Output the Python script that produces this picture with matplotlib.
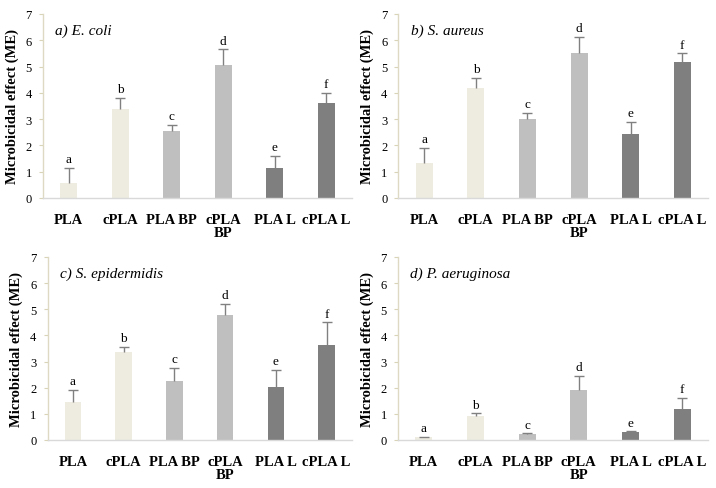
import matplotlib
matplotlib.use("Agg")
import matplotlib.pyplot as plt
import numpy as np

categories = ["PLA", "cPLA", "PLA BP", "cPLA\nBP", "PLA L", "cPLA L"]
letters = ["a", "b", "c", "d", "e", "f"]
bar_colors = ["#eeece1", "#eeece1", "#bfbfbf", "#bfbfbf", "#7f7f7f", "#7f7f7f"]

titles = ["a) E. coli", "b) S. aureus", "c) S. epidermidis", "d) P. aeruginosa"]

ecoli_mean = [0.57, 3.38, 2.55, 5.05, 1.15, 3.62]
ecoli_err = [0.57, 0.42, 0.22, 0.60, 0.45, 0.38]
saureus_mean = [1.33, 4.17, 3.02, 5.52, 2.45, 5.17]
saureus_err = [0.57, 0.41, 0.21, 0.60, 0.45, 0.33]
sepi_mean = [1.45, 3.37, 2.24, 4.77, 2.03, 3.62]
sepi_err = [0.47, 0.20, 0.52, 0.45, 0.65, 0.88]
paer_mean = [0.10, 0.90, 0.23, 1.90, 0.30, 1.20]
paer_err = [0.03, 0.12, 0.02, 0.55, 0.03, 0.40]

means = [ecoli_mean, saureus_mean, sepi_mean, paer_mean]
errs = [ecoli_err, saureus_err, sepi_err, paer_err]

plt.rcParams["font.family"] = ["Liberation Serif", "DejaVu Serif"]

fig = plt.figure(figsize=(7.16, 4.89), dpi=100)
W, H = 716, 489
rects = [
    (43, 15, 352, 199),
    (398.5, 15, 708, 199),
    (47.5, 258, 352, 441),
    (398, 258, 708, 441),
]

for i, (x0, y0, x1, y1) in enumerate(rects):
    ax = fig.add_axes([x0 / W, (H - y1) / H, (x1 - x0) / W, (y1 - y0) / H])
    x = np.arange(len(categories))
    m = np.array(means[i])
    e = np.array(errs[i])
    ax.bar(x, m, width=0.33, color=bar_colors, edgecolor="none", zorder=2)
    cont = ax.errorbar(x, m, yerr=[np.zeros(len(m)), e], fmt="none", ecolor="#808080",
                       elinewidth=1.0, capsize=3.5, capthick=1.0, zorder=3)
    # hide the lower caps (drawn at the bar tops)
    cont[1][0].set_visible(False)
    for xi, mi, ei, lt in zip(x, m, e, letters):
        ax.annotate(lt, (xi, mi + ei), xytext=(0, 2), textcoords="offset points",
                    ha="center", va="bottom", fontsize=9.5)
    ax.set_xlim(-0.5, 5.5)
    ax.set_ylim(0, 7)
    ax.set_yticks(range(0, 8))
    ax.set_xticks(x)
    ax.set_xticklabels(categories, fontweight="bold", fontsize=10.5, linespacing=0.95)
    ax.tick_params(axis="x", length=0, pad=11)
    ax.tick_params(axis="y", length=3, color="#d9d3b8", labelsize=9, pad=5)
    for s in ["top", "right"]:
        ax.spines[s].set_visible(False)
    ax.spines["left"].set_color("#ddd9c3")
    ax.spines["bottom"].set_color("#d9d9d9")
    ax.spines["left"].set_linewidth(1.0)
    ax.spines["bottom"].set_linewidth(1.0)
    ax.set_ylabel("Microbicidal effect (ME)", fontweight="bold", fontsize=10.5, labelpad=5)
    ax.text(0.04, 0.91, titles[i], transform=ax.transAxes, fontstyle="italic",
            fontsize=11, ha="left", va="center")

fig.savefig("out.png", dpi=100)
